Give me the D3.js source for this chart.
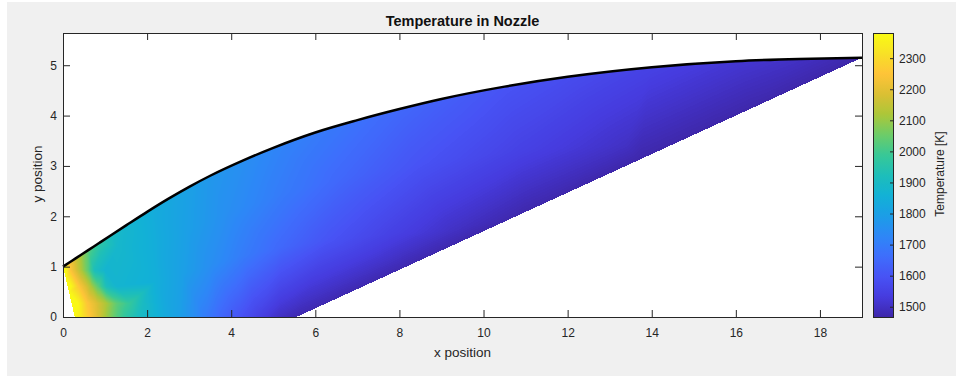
<!DOCTYPE html>
<html>
<head>
<meta charset="utf-8">
<script src="https://cdn.jsdelivr.net/npm/d3@7"></script>
<style>
  body { margin: 0; background: #fff; }
  svg { display: block; font-family: "Liberation Sans", Arial, Helvetica, sans-serif; }
</style>
</head>
<body>
<svg id="chart" width="956" height="376"></svg>
<script>
// upper wall contour with the temperature read along it
const wallX = [0, 0.15, 0.3, 0.45, 0.6, 0.85, 1.15, 1.5, 2.0, 2.5, 3.0, 3.5, 4.3, 5.0, 6.0, 7.0, 8.0, 9.0, 10.5, 12.0, 14.0, 16.0, 17.5, 19.0];
const wallY = [1.000, 1.082, 1.164, 1.246, 1.328, 1.465, 1.629, 1.819, 2.088, 2.345, 2.585, 2.805, 3.115, 3.360, 3.665, 3.910, 4.130, 4.330, 4.575, 4.770, 4.960, 5.080, 5.125, 5.150];
const wallT = [2375, 2250, 2170, 2100, 2030, 1970, 1910, 1880, 1850, 1825, 1800, 1775, 1750, 1725, 1700, 1675, 1650, 1630, 1600, 1580, 1550, 1520, 1500, 1470];

// centreline (y = 0)
const axisX = [0.28, 0.45, 0.65, 0.85, 1.05, 1.3, 1.55, 1.8, 2.0, 2.3, 2.75, 3.1, 3.4, 3.75, 4.2, 4.65, 5.15, 5.55];
const axisT = [2375, 2330, 2250, 2180, 2100, 2020, 1960, 1910, 1885, 1850, 1800, 1750, 1700, 1650, 1600, 1550, 1500, 1478];

// sonic line at the throat
const throatX = [0.07, 0.14, 0.21];
const throatY = [0.75, 0.5, 0.25];
const throatT = [2375, 2375, 2375];

// last characteristic (exit line)
const exitX = [8.25, 11.0, 13.7, 16.4];
const exitY = [1.034, 2.087, 3.121, 4.155];
const exitT = [1475, 1472, 1470, 1470];

// samples inside the kernel, [x, y, T]
const kernelPts = [
  [0.36, 0.27, 2370], [0.57, 0.27, 2260], [0.8, 0.27, 2190], [1.03, 0.27, 2120],
  [1.27, 0.27, 2040], [1.59, 0.27, 1980], [1.9, 0.27, 1905],
  [0.2, 0.61, 2370], [0.37, 0.61, 2260], [0.56, 0.61, 2180], [0.67, 0.61, 2120],
  [0.83, 0.61, 2035], [1.03, 0.61, 1920], [1.27, 0.61, 1875],
  [0.07, 0.93, 2370], [0.18, 0.93, 2250], [0.44, 0.93, 2120], [0.6, 0.93, 2035],
  [0.75, 0.93, 1920], [1.0, 0.93, 1875],
  [0.9, 1.3, 1935], [1.3, 1.4, 1885]
];

// samples in the wave region, [x, y, T]
const fanPts = [
  [2.2, 0.7, 1850], [2.1, 1.4, 1850],
  [2.83, 0.86, 1800], [2.92, 1.72, 1800],
  [3.5, 1.03, 1750], [3.9, 2.07, 1750],
  [4.27, 1.22, 1700], [5.13, 2.43, 1700],
  [5.17, 1.38, 1650], [6.58, 2.75, 1650],
  [6.3, 1.52, 1600], [8.4, 3.03, 1600],
  [7.77, 1.65, 1550], [10.88, 3.31, 1550],
  [9.27, 1.71, 1500], [13.38, 3.41, 1500]
];

const xTicks = [0, 2, 4, 6, 8, 10, 12, 14, 16, 18];
const yTicks = [0, 1, 2, 3, 4, 5];
const cbTicks = [1500, 1600, 1700, 1800, 1900, 2000, 2100, 2200, 2300];
const tRange = [1467, 2381];

// parula colormap anchors
const parulaPos = [0, 0.0714, 0.1429, 0.2143, 0.2857, 0.3571, 0.4286, 0.5, 0.5714, 0.6429, 0.7143, 0.7857, 0.8571, 0.9286, 1];
const parulaRGB = [
  [0.2422, 0.1504, 0.6603], [0.2733, 0.2316, 0.8700], [0.2810, 0.3228, 0.9579],
  [0.2440, 0.4270, 0.9890], [0.1786, 0.5289, 0.9682], [0.1100, 0.6180, 0.9050],
  [0.0689, 0.6948, 0.8394], [0.1150, 0.7450, 0.7290], [0.2161, 0.7843, 0.5923],
  [0.4260, 0.7990, 0.4080], [0.6720, 0.7793, 0.2227], [0.8570, 0.7500, 0.2000],
  [0.9970, 0.7659, 0.2199], [0.9700, 0.8800, 0.1500], [0.9769, 0.9839, 0.0805]
];

const svg = d3.select("#chart");
const ink = "#262626";

const x = d3.scaleLinear().domain([0, 19]).range([63, 862]);
const y = d3.scaleLinear().domain([0, 5.64]).range([317, 33]);
const cbY = d3.scaleLinear().domain(tRange).range([317, 33]);

const parula = d3.scaleLinear()
  .domain(parulaPos)
  .range(parulaRGB.map(c => d3.rgb(c[0] * 255, c[1] * 255, c[2] * 255)))
  .interpolate(d3.interpolateRgb)
  .clamp(true);

// lookup table
const lut = d3.range(256).map(i => d3.rgb(parula(i / 255)));
const colorOf = t => lut[Math.max(0, Math.min(255, Math.round((t - tRange[0]) / (tRange[1] - tRange[0]) * 255)))];

// figure panel
svg.append("rect").attr("x", 7).attr("y", 2).attr("width", 949).attr("height", 374).attr("fill", "#f0f0f0");
svg.append("rect").attr("x", 63).attr("y", 33).attr("width", 799).attr("height", 284).attr("fill", "#fff");

// collect samples
const pts = [];
wallX.forEach((v, i) => pts.push([v, wallY[i], wallT[i]]));
axisX.forEach((v, i) => pts.push([v, 0, axisT[i]]));
throatX.forEach((v, i) => pts.push([v, throatY[i], throatT[i]]));
exitX.forEach((v, i) => pts.push([v, exitY[i], exitT[i]]));
kernelPts.forEach(d => pts.push(d));
fanPts.forEach(d => pts.push(d));

// rasterise the triangulated field
const ox = 63, oy = 33, W = 800, H = 285;
const canvas = document.createElement("canvas");
canvas.width = W; canvas.height = H;
const ctx = canvas.getContext("2d");
const img = ctx.createImageData(W, H);
const P = pts.map(d => [x(d[0]) - ox, y(d[1]) - oy, d[2]]);
const del = d3.Delaunay.from(P, d => d[0], d => d[1]);
const tr = del.triangles;
for (let k = 0; k < tr.length; k += 3) {
  const a = P[tr[k]], b = P[tr[k + 1]], c = P[tr[k + 2]];
  const det = (b[1] - c[1]) * (a[0] - c[0]) + (c[0] - b[0]) * (a[1] - c[1]);
  if (Math.abs(det) < 1e-9) continue;
  const x0 = Math.max(0, Math.floor(Math.min(a[0], b[0], c[0])));
  const x1 = Math.min(W - 1, Math.ceil(Math.max(a[0], b[0], c[0])));
  const y0 = Math.max(0, Math.floor(Math.min(a[1], b[1], c[1])));
  const y1 = Math.min(H - 1, Math.ceil(Math.max(a[1], b[1], c[1])));
  for (let j = y0; j <= y1; j++) {
    for (let i = x0; i <= x1; i++) {
      const px = i + 0.5, py = j + 0.5;
      const l1 = ((b[1] - c[1]) * (px - c[0]) + (c[0] - b[0]) * (py - c[1])) / det;
      const l2 = ((c[1] - a[1]) * (px - c[0]) + (a[0] - c[0]) * (py - c[1])) / det;
      const l3 = 1 - l1 - l2;
      if (l1 < -1e-6 || l2 < -1e-6 || l3 < -1e-6) continue;
      const col = colorOf(l1 * a[2] + l2 * b[2] + l3 * c[2]);
      const o = (j * W + i) * 4;
      img.data[o] = col.r; img.data[o + 1] = col.g; img.data[o + 2] = col.b; img.data[o + 3] = 255;
    }
  }
}
ctx.putImageData(img, 0, 0);
svg.append("image")
  .attr("x", ox).attr("y", oy).attr("width", W).attr("height", H)
  .attr("href", canvas.toDataURL());

// nozzle wall
const wall = wallX.map((v, i) => [v, wallY[i]]);
svg.append("path")
  .attr("d", d3.line().x(d => x(d[0])).y(d => y(d[1])).curve(d3.curveMonotoneX)(wall))
  .attr("fill", "none").attr("stroke", "#000").attr("stroke-width", 2.5);

// axes
function style(g) {
  g.select(".domain").remove();
  g.selectAll("line").attr("stroke", ink);
  g.selectAll("text").attr("fill", ink).style("font-size", "12px");
}
const fmt = d3.format("d");
svg.append("g").attr("transform", "translate(0,317)")
  .call(d3.axisBottom(x).tickValues(xTicks).tickFormat(fmt).tickSizeInner(-7).tickSizeOuter(0).tickPadding(11))
  .call(style);
svg.append("g").attr("transform", "translate(0,33)")
  .call(d3.axisTop(x).tickValues(xTicks).tickSizeInner(-7).tickSizeOuter(0).tickFormat(""))
  .call(style);
svg.append("g").attr("transform", "translate(63,0)")
  .call(d3.axisLeft(y).tickValues(yTicks).tickFormat(fmt).tickSizeInner(-7).tickSizeOuter(0).tickPadding(6))
  .call(style);
svg.append("g").attr("transform", "translate(862,0)")
  .call(d3.axisRight(y).tickValues(yTicks).tickSizeInner(-7).tickSizeOuter(0).tickFormat(""))
  .call(style);
svg.append("rect").attr("x", 63.5).attr("y", 33.5).attr("width", 799).attr("height", 284)
  .attr("fill", "none").attr("stroke", ink);

// colorbar
const grad = svg.append("defs").append("linearGradient")
  .attr("id", "cb").attr("x1", 0).attr("y1", 1).attr("x2", 0).attr("y2", 0);
d3.range(0, 65).forEach(i => {
  grad.append("stop").attr("offset", i / 64).attr("stop-color", parula(i / 64));
});
svg.append("rect").attr("x", 873.5).attr("y", 33.5).attr("width", 20).attr("height", 284)
  .attr("fill", "url(#cb)").attr("stroke", ink);
svg.append("g").attr("transform", "translate(893,0)")
  .call(d3.axisRight(cbY).tickValues(cbTicks).tickFormat(fmt).tickSizeInner(-3).tickSizeOuter(0).tickPadding(6))
  .call(style);

// labels
svg.append("text").attr("x", 462.5).attr("y", 26).attr("text-anchor", "middle")
  .style("font-size", "14.5px").style("font-weight", "bold").attr("fill", "#111")
  .text("Temperature in Nozzle");
svg.append("text").attr("x", 462.5).attr("y", 357).attr("text-anchor", "middle")
  .style("font-size", "13.5px").attr("fill", ink).text("x position");
svg.append("text").attr("transform", "translate(42,174) rotate(-90)").attr("text-anchor", "middle")
  .style("font-size", "13.5px").attr("fill", ink).text("y position");
svg.append("text").attr("transform", "translate(944,174) rotate(-90)").attr("text-anchor", "middle")
  .style("font-size", "12px").attr("fill", ink).text("Temperature [K]");
</script>
</body>
</html>
